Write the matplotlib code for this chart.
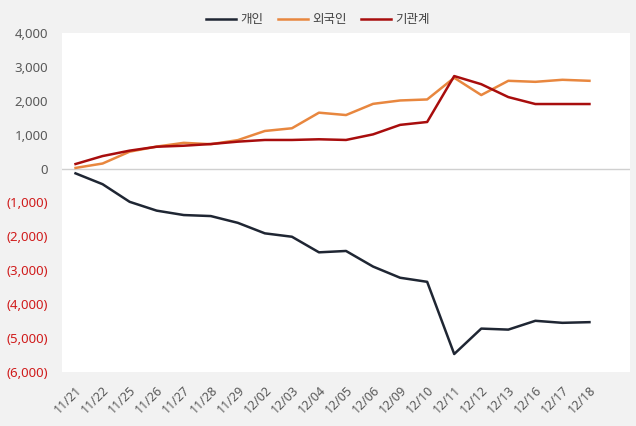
import matplotlib
matplotlib.use('Agg')
import matplotlib.pyplot as plt
from matplotlib.ticker import FixedLocator, FuncFormatter

plt.rcParams['font.family'] = ['Noto Sans', 'Noto Sans CJK KR', 'DejaVu Sans']

# %% data
dates = ['11/21', '11/22', '11/25', '11/26', '11/27', '11/28', '11/29', '12/02', '12/03', '12/04',
         '12/05', '12/06', '12/09', '12/10', '12/11', '12/12', '12/13', '12/16', '12/17', '12/18']
individual = [-140, -460, -980, -1240, -1370, -1400, -1600, -1910, -2010, -2470,
              -2430, -2890, -3220, -3340, -5470, -4720, -4750, -4490, -4550, -4530]
foreign = [20, 150, 500, 650, 760, 720, 840, 1110, 1190, 1650,
           1580, 1910, 2010, 2040, 2680, 2170, 2590, 2560, 2620, 2590]
institution = [135, 370, 530, 645, 675, 725, 795, 845, 845, 865,
               845, 1010, 1290, 1375, 2730, 2490, 2110, 1905, 1905, 1905]
yticks = list(range(-6000, 4001, 1000))

# %% plot
fig = plt.figure(figsize=(6.36, 4.26), dpi=100, facecolor='#f2f2f2')
ax = fig.add_axes([0.0975, 0.1268, 0.8931, 0.7957])
ax.set_facecolor('white')

x = list(range(len(dates)))
ax.axhline(0, color='#d0d0d0', lw=1, zorder=1)
ax.plot(x, individual, color='#1f2633', lw=1.8, label='개인', zorder=3)
ax.plot(x, foreign, color='#e8873f', lw=1.8, label='외국인', zorder=3)
ax.plot(x, institution, color='#a80d0d', lw=1.8, label='기관계', zorder=4)

ax.set_xlim(-0.5, 20.5)
ax.set_ylim(-6000, 4000)
ax.yaxis.set_major_locator(FixedLocator(yticks))
ax.yaxis.set_major_formatter(FuncFormatter(
    lambda v, p: f'({abs(v):,.0f})' if v < 0 else f'{v:,.0f}'))
ax.set_xticks(x)
ax.set_xticklabels(dates, rotation=45, ha='right', rotation_mode='anchor')

ax.tick_params(axis='y', length=0, pad=10, labelsize=9.5, labelcolor='#595959')
ax.tick_params(axis='x', length=0, pad=8, labelsize=9, labelcolor='#595959')
for lbl, v in zip(ax.get_yticklabels(), yticks):
    if v < 0:
        lbl.set_color('#d01c1c')

for s in ax.spines.values():
    s.set_visible(False)

fig.legend(loc='upper center', bbox_to_anchor=(0.5, 0.995), ncol=3, frameon=False,
           fontsize=9, handlelength=2.4, handletextpad=0.3, columnspacing=1.2,
           labelcolor='#404040')

fig.savefig('out.png', dpi=100, facecolor=fig.get_facecolor())
